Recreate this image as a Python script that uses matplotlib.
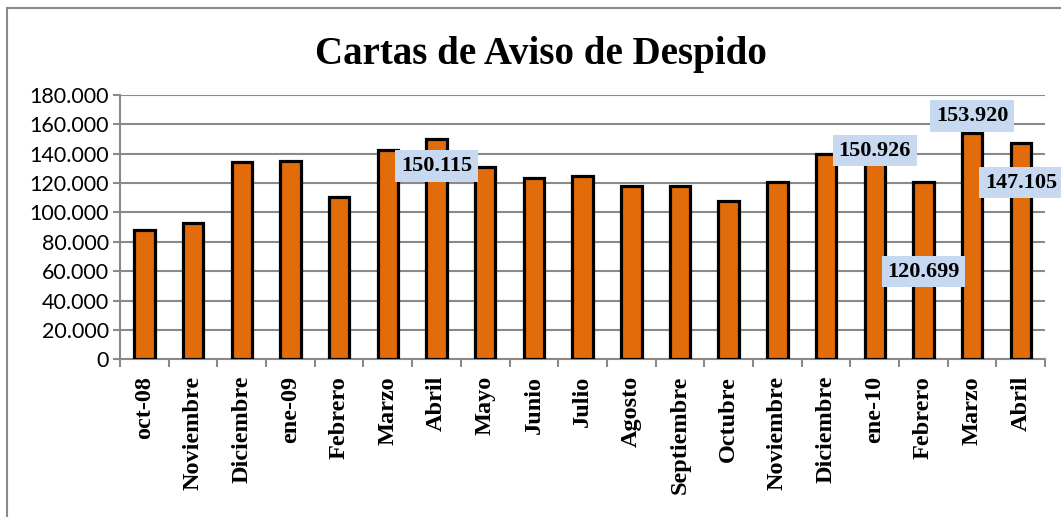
import matplotlib
matplotlib.use("Agg")
import matplotlib.pyplot as plt
from matplotlib.patches import Rectangle
from matplotlib.ticker import FuncFormatter, MultipleLocator

# datos
meses = ["oct-08", "Noviembre", "Diciembre", "ene-09", "Febrero", "Marzo", "Abril",
         "Mayo", "Junio", "Julio", "Agosto", "Septiembre", "Octubre", "Noviembre",
         "Diciembre", "ene-10", "Febrero", "Marzo", "Abril"]
cartas = [88300, 93000, 134500, 135200, 110200, 142600, 150115,
          131100, 123600, 124800, 118200, 118200, 108000, 120500,
          139800, 150926, 120699, 153920, 147105]

# etiquetas destacadas: indice, texto, altura de la etiqueta
etiq_idx = [6, 15, 16, 17, 18]
etiq_txt = ["150.115", "150.926", "120.699", "153.920", "147.105"]
etiq_y = [131600, 141900, 59500, 165700, 120100]

fig = plt.figure(figsize=(10.61, 5.17), dpi=100)
ax = fig.add_axes([0.1131, 0.305, 0.872, 0.5113])

x = range(len(meses))
ax.bar(x, cartas, width=0.42, color="#E36C0A", edgecolor="black", linewidth=2.3, zorder=3)

ax.set_ylim(0, 180000)
ax.set_xlim(-0.5, len(meses) - 0.5)
ax.yaxis.set_major_locator(MultipleLocator(20000))
ax.yaxis.set_major_formatter(FuncFormatter(lambda v, p: "0" if v == 0 else f"{int(v):,}".replace(",", ".")))
ax.grid(axis="y", color="#8a8a8a", linewidth=1.5, zorder=0)

for s in ["top", "right"]:
    ax.spines[s].set_visible(False)
for s in ["left", "bottom"]:
    ax.spines[s].set_color("#8a8a8a")
    ax.spines[s].set_linewidth(1.5)

ax.set_xticks(list(x))
ax.set_xticklabels(meses, rotation=90, fontsize=17.5, fontweight="bold",
                   family="Liberation Serif")
ax.set_xticks([i - 0.5 for i in range(len(meses) + 1)], minor=True)
ax.tick_params(axis="x", which="major", length=0, pad=12)
ax.tick_params(axis="x", which="minor", length=6, color="#8a8a8a", width=1.5)
ax.tick_params(axis="y", length=5, color="#8a8a8a", width=1.5, labelsize=15.5, pad=3)
for lab in ax.get_yticklabels():
    lab.set_family("Lato")

for i, t, yy in zip(etiq_idx, etiq_txt, etiq_y):
    ax.text(i, yy, t, ha="center", va="center", fontsize=16, fontweight="bold",
            family="Liberation Serif", zorder=5,
            bbox=dict(boxstyle="square,pad=0.25", facecolor="#C6D9F1", edgecolor="none"))

fig.text(0.51, 0.895, "Cartas de Aviso de Despido", ha="center", va="center",
         fontsize=28, fontweight="bold", family="Liberation Serif")

# marco del grafico
fig.patches.append(Rectangle((7 / 1061, -0.1), 1.2, 1.1 - 8 / 517, transform=fig.transFigure,
                             fill=False, edgecolor="#8a8a8a", linewidth=1.5))

fig.savefig("out.png", dpi=100)
